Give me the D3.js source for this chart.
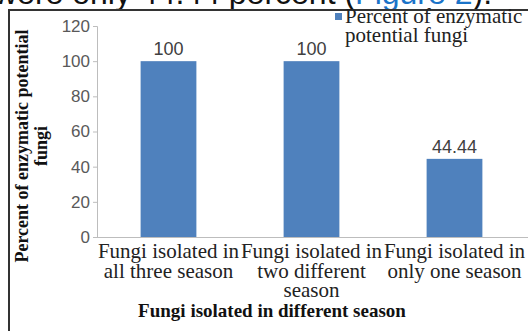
<!DOCTYPE html>
<html>
<head>
<meta charset="utf-8">
<script src="https://cdn.jsdelivr.net/npm/d3@7"></script>
<style>
  html, body { margin: 0; padding: 0; background: #fff; }
  svg { display: block; }
</style>
</head>
<body>
<script>
// Figure data
const categories = [
  ["Fungi isolated in", "all three season"],
  ["Fungi isolated in", "two different", "season"],
  ["Fungi isolated in", "only one season"]
];
const values = [100, 100, 44.44];
const valueLabels = ["100", "100", "44.44"];
const yTicks = [0, 20, 40, 60, 80, 100, 120];
const seriesName = ["Percent of enzymatic", "potential fungi"];
const yTitle = ["Percent of enzymatic potential", "fungi"];
const xTitle = "Fungi isolated in different season";

const W = 528, H = 331;
const svg = d3.select("body").append("svg").attr("width", W).attr("height", H);

// Running text line above the figure (clipped by the page edge)
const lead = svg.append("text")
  .attr("x", -6).attr("y", 4)
  .attr("font-family", "Liberation Sans, Arial, sans-serif")
  .attr("font-size", 32).attr("fill", "#111");
lead.append("tspan").text("were only 44.44 percent (");
lead.append("tspan").attr("fill", "#1a73c8").text("Figure 2");
lead.append("tspan").text(").");

// Figure frame
svg.append("line").attr("x1", 8).attr("x2", W).attr("y1", 10).attr("y2", 10)
  .attr("stroke", "#333").attr("stroke-width", 2);
svg.append("line").attr("x1", 9).attr("x2", 9).attr("y1", 9).attr("y2", H)
  .attr("stroke", "#333").attr("stroke-width", 2);

const x = d3.scaleBand().domain(d3.range(values.length))
  .range([97, 526]).paddingInner(0.61).paddingOuter(0.305);
const y = d3.scaleLinear().domain([0, 120]).range([237, 26]);

const serif = "Liberation Serif, Times New Roman, serif";
const sans = "Liberation Sans, Arial, sans-serif";

// Y axis
const yAxis = svg.append("g").attr("transform", "translate(97,0)")
  .call(d3.axisLeft(y).tickValues(yTicks).tickSize(4).tickPadding(3));
yAxis.select(".domain").attr("stroke", "#bdbdbd");
yAxis.selectAll(".tick line").attr("stroke", "#bdbdbd");
yAxis.selectAll(".tick text").attr("font-family", sans).attr("font-size", 17)
  .attr("fill", "#595959");

// X axis baseline
svg.append("line").attr("x1", 97).attr("x2", W).attr("y1", y(0) + 0.5).attr("y2", y(0) + 0.5)
  .attr("stroke", "#bdbdbd");

// Bars
svg.append("g").selectAll("rect").data(values).join("rect")
  .attr("x", (d, i) => x(i)).attr("width", x.bandwidth())
  .attr("y", d => y(d)).attr("height", d => y(0) - y(d))
  .attr("fill", "#4f81bd");

// Value labels
svg.append("g").selectAll("text").data(values).join("text")
  .attr("x", (d, i) => x(i) + x.bandwidth() / 2).attr("y", d => y(d) - 6)
  .attr("text-anchor", "middle").attr("font-family", sans).attr("font-size", 18)
  .attr("fill", "#404040").text((d, i) => valueLabels[i]);

// Category labels
categories.forEach((lines, i) => {
  const t = svg.append("text").attr("text-anchor", "middle")
    .attr("font-family", serif).attr("font-size", 21).attr("fill", "#222");
  lines.forEach((s, k) => {
    t.append("tspan").attr("x", x(i) + x.bandwidth() / 2).attr("y", 258 + k * 19.5).text(s);
  });
});

// X title
svg.append("text").attr("x", 272).attr("y", 317).attr("text-anchor", "middle")
  .attr("font-family", serif).attr("font-weight", "bold").attr("font-size", 19)
  .attr("fill", "#111").text(xTitle);

// Y title
const yt = svg.append("text").attr("transform", "translate(0,146) rotate(-90)")
  .attr("text-anchor", "middle").attr("font-family", serif).attr("font-weight", "bold")
  .attr("font-size", 18).attr("fill", "#111");
yTitle.forEach((s, k) => yt.append("tspan").attr("x", 0).attr("y", 28 + k * 19).text(s));

// Legend
svg.append("rect").attr("x", 335).attr("y", 13).attr("width", 7).attr("height", 7)
  .attr("fill", "#4f81bd");
const lg = svg.append("text").attr("font-family", serif).attr("font-size", 21).attr("fill", "#222");
seriesName.forEach((s, k) => lg.append("tspan").attr("x", 345).attr("y", 23 + k * 19).text(s));
</script>
</body>
</html>
